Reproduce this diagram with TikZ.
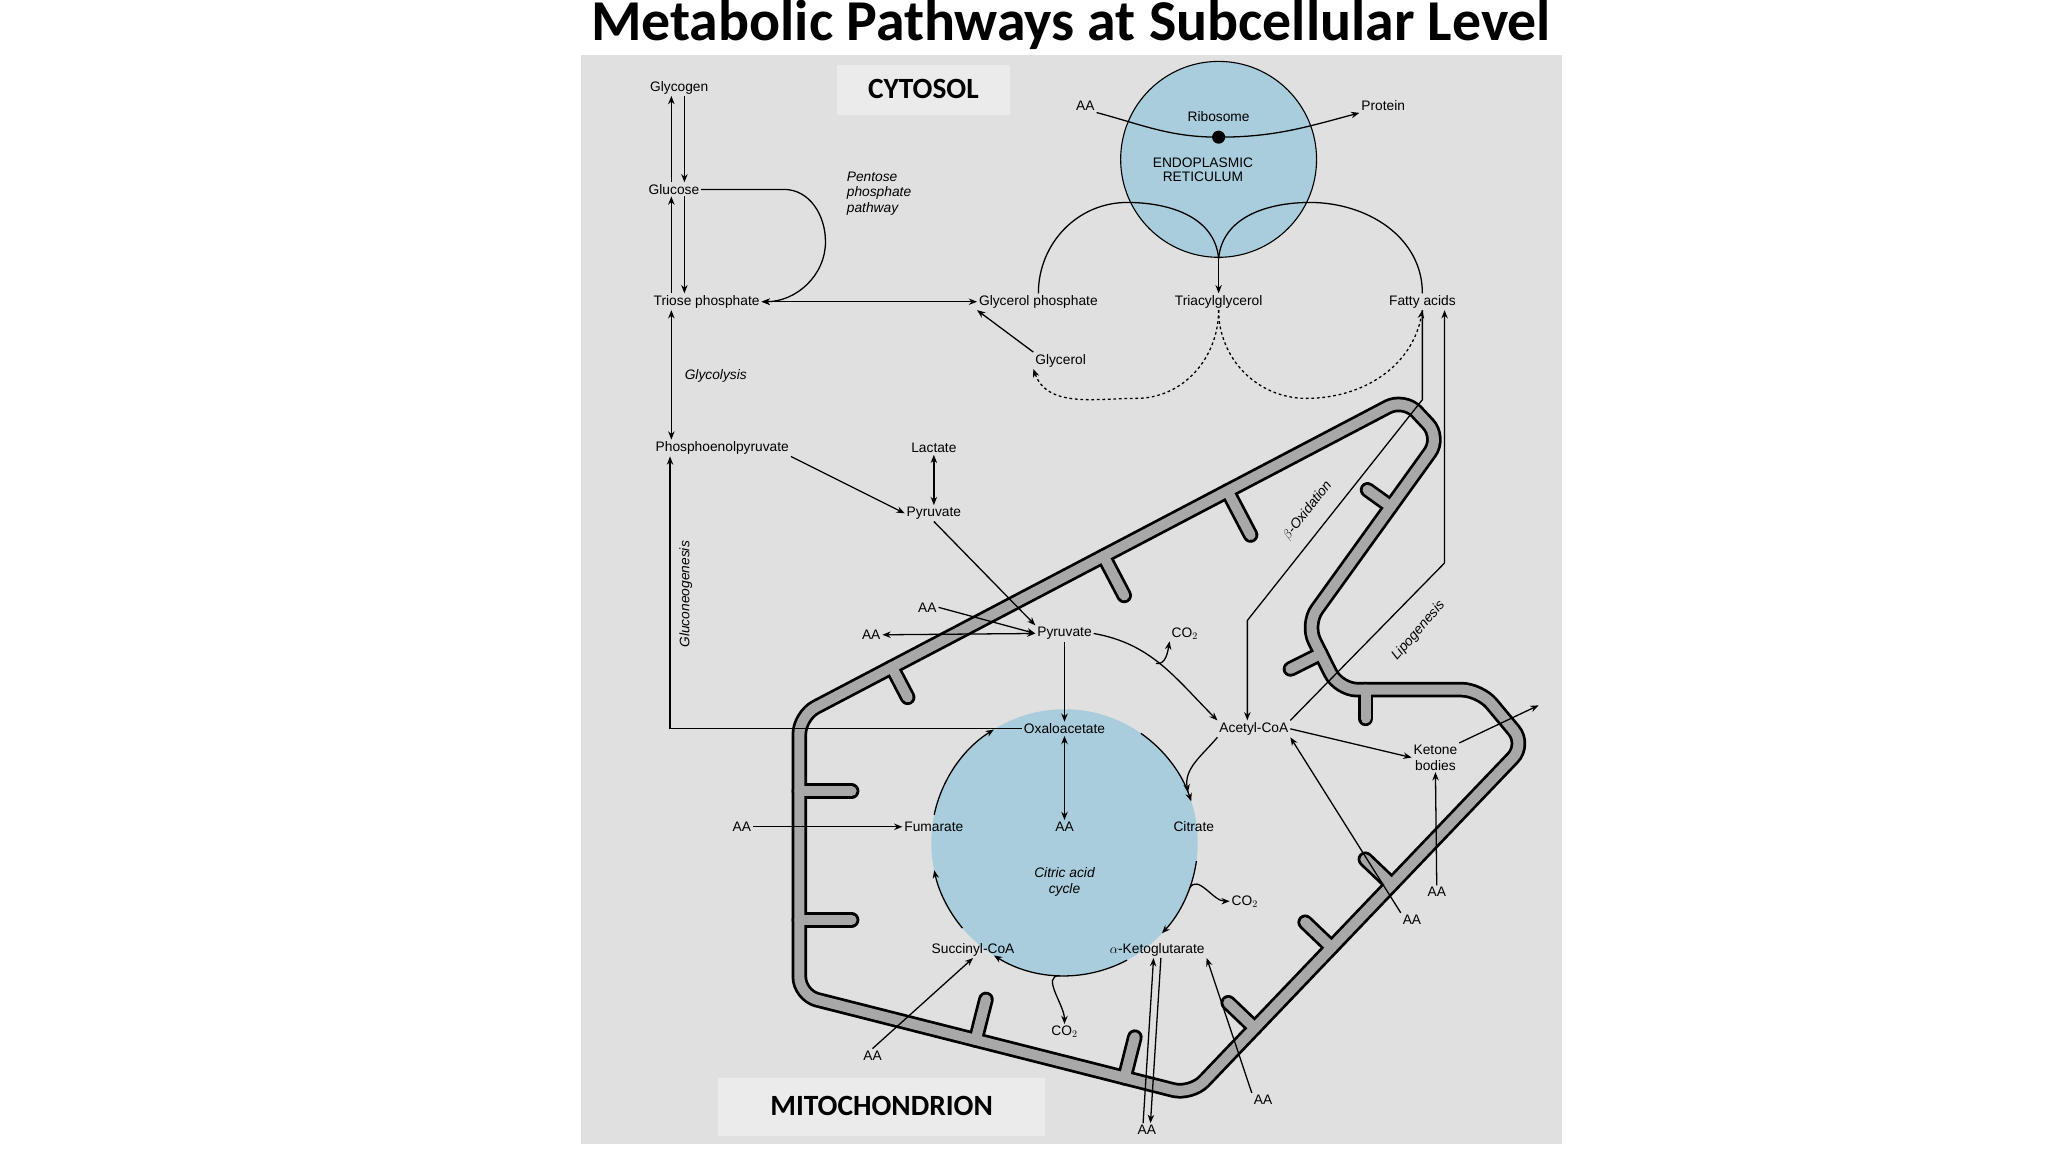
\documentclass[tikz,border=0pt]{standalone}
\usepackage{fontspec}
\setmainfont{Liberation Sans}
\newfontfamily\calfont{Carlito}
\usetikzlibrary{arrows.meta,calc}
\definecolor{bg}{HTML}{E0E0E0}
\definecolor{lbl}{HTML}{EBEBEB}
\definecolor{cyt}{HTML}{A9CDDD}
\definecolor{mem}{HTML}{A8A8A8}
\begin{document}
\begin{tikzpicture}[x=0.05cm,y=-0.05cm,
 t/.style={font=\fontsize{15}{17}\selectfont,inner sep=2pt},
 ti/.style={t,font=\fontsize{15}{17}\selectfont\itshape},
 ar/.style={line width=1.4pt,-{Stealth[length=9pt,width=7pt]}},
 ln/.style={line width=1.4pt},
 dar/.style={line width=1.4pt,{Stealth[length=9pt,width=7pt]}-{Stealth[length=9pt,width=7pt]}},
 big/.style={font=\calfont\bfseries\fontsize{32}{36}\selectfont}]
\useasboundingbox (0,0) rectangle (1568,882);
\fill[white] (0,0) rectangle (1568,882);
\fill[bg] (445,42) rectangle (1196,876);
\node[font=\calfont\bfseries\fontsize{63}{68}\selectfont] (title) at (820,19) {Metabolic Pathways at Subcellular Level};
\fill[lbl] (641,50) rectangle (773,88);
\node[big] (cyt) at (707,68) {CYTOSOL};
% mitochondrion membrane
\coordinate (m1) at (612,548);
\coordinate (m2) at (1075,305);
\coordinate (m3) at (1103,335);
\coordinate (m4) at (1000,478);
\coordinate (m5) at (1025,528);
\coordinate (m6) at (1133,528);
\coordinate (m7) at (1168,570);
\coordinate (m8) at (912,838);
\coordinate (m9) at (612,762);
\def\cristae{%
 \foreach \p/\q/\tt/\L in {m1/m2/0.153/1.3,m1/m2/0.503/1.7,m1/m2/0.708/1.9,m3/m4/0.37/1.1,m4/m5/0.45/1.3,m5/m6/0.19/1.1,m7/m8/0.40/1.4,m7/m8/0.58/1.4,m7/m8/0.81/1.4,m8/m9/0.17/1.6,m8/m9/0.55/1.6,m9/m1/0.27/2.0,m9/m1/0.73/2.0}{
  \path ($(\p)!\tt!(\q)$) coordinate (cb);
  \draw[line cap=round] (cb) -- ($(cb)!\L cm!-90:(\q)$);}}
\begin{scope}[line width=17pt,black]\cristae\end{scope}
\draw[line width=17pt,black,rounded corners=20pt] (m1)--(m2)--(m3)--(m4)--(m5)--(m6)--(m7)--(m8)--(m9)--cycle;
\begin{scope}[line width=11pt,mem]\cristae\end{scope}
\draw[line width=11pt,mem,rounded corners=20pt] (m1)--(m2)--(m3)--(m4)--(m5)--(m6)--(m7)--(m8)--(m9)--cycle;
\fill[lbl] (550,825) rectangle (800,870);
\node[big] (mito) at (675,847) {MITOCHONDRION};
% circles
\draw[line width=1.2pt,fill=cyt] (933,122) circle (75);
\fill[cyt] (815,645) circle (102);
% ER
\node[t] (rib) at (933,89) {Ribosome};
\node[t,align=center,font=\fontsize{15}{16}\selectfont] (er) at (921,130) {ENDOPLASMIC\\RETICULUM};
\node[t] (aa0) at (831,81) {AA};
\node[t] (prot) at (1059,81) {Protein};
\coordinate (dot) at (933,105);
\draw[ar] (aa0.south east) to[out=-15,in=180] (dot) to[out=0,in=195] (prot.south west);
\fill (dot) circle (5);
\node[t] (gp) at (795,231) {Glycerol phosphate};
\node[t] (tag) at (933,231) {Triacylglycerol};
\node[t] (fa) at (1089,231) {Fatty acids};
\node[t] (gly) at (812,276) {Glycerol};
\coordinate (erb) at (933,198);
\draw[ln] (gp.north) to[out=90,in=180] (863,155) to[out=0,in=95] (erb);
\draw[ln] (fa.north) to[out=90,in=0] (1003,155) to[out=180,in=85] (erb);
\draw[ar] (erb) -- (tag.north);
\draw[ar,dashed] (tag.south) to[out=-90,in=0] (870,305) to[out=180,in=-70] (gly.south west);
\draw[ar] (gly.north west) -- (gp.south west);
\draw[ar,dashed] (tag.south) to[out=-90,in=180] (1000,305) to[out=0,in=-100] (fa.south);
% left column
\node[t] (glyc) at (520,67) {Glycogen};
\node[t] (glu) at (516,145) {Glucose};
\node[t] (tp) at (541,231) {Triose phosphate};
\node[t] (pep) at (553,343) {Phosphoenolpyruvate};
\coordinate (xa) at (514,0);
\coordinate (xb) at (524,0);
\draw[ar] (glu.north -| xa) -- (glyc.south -| xa);
\draw[ar] (glyc.south -| xb) -- (glu.north -| xb);
\draw[ar] (tp.north -| xa) -- (glu.south -| xa);
\draw[ar] (glu.south -| xb) -- (tp.north -| xb);
\draw[dar] (tp.south -| xa) -- (pep.north -| xa);
\node[ti] (glyl) at (548,288) {Glycolysis};
\node[ti,align=left] (ppp) at (673,148) {Pentose\\phosphate\\pathway};
\draw[ar] (glu.east) -- (600,145) to[out=0,in=90] (632,185) to[out=-90,in=0] (tp.east);
\draw[dar] (tp.east) -- (gp.west);
\node[t] (lac) at (715,343) {Lactate};
\node[t] (pyr1) at (715,393) {Pyruvate};
\draw[dar] (lac.south) -- (pyr1.north);
\draw[ar] (pep.south east) -- (pyr1.west);
% mito contents
\node[t] (pyr2) at (815,485) {Pyruvate};
\node[t] (aa1) at (710,465) {AA};
\node[t] (aa2) at (667,486) {AA};
\node[t] (co2a) at (907,485) {CO$_2$};
\draw[ar] (pyr1.south) -- (pyr2.north west);
\draw[ar] (aa1.east) -- (pyr2.west);
\draw[dar] (aa2.east) -- (pyr2.west);
\node[t] (oaa) at (815,558) {Oxaloacetate};
\node[t] (acoa) at (960,558) {Acetyl-CoA};
\draw[ar] (pyr2.south) -- (oaa.north);
\draw[ar] (pyr2.east) to[out=-10,in=135] (acoa.north west);
\draw[ar] (885,508) to[out=-10,in=-100] (co2a.south west);
\node[ti,rotate=90] (gng) at (525,455) {Gluconeogenesis};
\coordinate (gc) at (513,558);
\draw[ar] (oaa.west) -- (gc) -- (pep.south -| gc);
\node[t] (fum) at (715,633) {Fumarate};
\node[t] (aac) at (815,633) {AA};
\node[t] (cit) at (914,633) {Citrate};
\node[ti,align=center] (cac) at (815,675) {Citric acid\\cycle};
\node[t] (suc) at (745,727) {Succinyl-CoA};
\node[t] (akg) at (886,727) {$\alpha$-Ketoglutarate};
\node[t] (co2b) at (953,690) {CO$_2$};
\node[t] (co2c) at (815,790) {CO$_2$};
\coordinate (cc) at (815,645);
\draw[dar] (oaa.south) -- (aac.north);
\draw[ar] ($(cc)+(-55:102)$) arc[start angle=-55,end angle=-18,radius=102];
\draw[ar] ($(cc)+(8:102)$) arc[start angle=8,end angle=43,radius=102];
\draw[ar] ($(cc)+(62:102)$) arc[start angle=62,end angle=122,radius=102];
\draw[ar] ($(cc)+(140:102)$) arc[start angle=140,end angle=168,radius=102];
\draw[ar] ($(cc)+(192:102)$) arc[start angle=192,end angle=238,radius=102];
\draw[ar] (acoa.south west) to[out=-130,in=100] ($(cc)+(-22:102)$);
\draw[ar] ($(cc)+(20:102)$) to[out=60,in=180] (co2b.west);
\draw[ar] ($(cc)+(92:102)$) to[out=180,in=90] (co2c.north);
\node[t] (aa3) at (568,633) {AA};
\draw[ar] (aa3.east) -- (fum.west);
\node[t] (aa4) at (668,808) {AA};
\draw[ar] (aa4.north) -- (suc.south);
\node[t] (aa5) at (878,865) {AA};
\draw[ar] ([xshift=-4]aa5.north) -- ([xshift=-4]akg.south);
\draw[ar] ([xshift=4]akg.south) -- ([xshift=4]aa5.north);
\node[t] (aa6) at (967,842) {AA};
\draw[ar] (aa6.north west) -- (akg.south east);
\node[t,align=center] (kb) at (1099,580) {Ketone\\bodies};
\draw[ar] (acoa.east) -- (kb.west);
\node[t] (aa7) at (1100,683) {AA};
\node[t] (aa8) at (1081,704) {AA};
\draw[ar] (aa7.north) -- (kb.south);
\draw[ar] (aa8.north west) -- (acoa.south east);
\coordinate (out) at (1178,540);
\draw[ar] (kb.north east) -- (out);
% beta oxidation & lipogenesis
\coordinate (b1) at (1089,306);
\coordinate (b2) at (955,475);
\draw[ar] (fa.south -| b1) -- (b1) -- (b2) -- (acoa.north -| b2);
\coordinate (l1) at (1106,431);
\draw[ar] (acoa.north east) -- (l1) -- (l1 |- fa.south);
\node[ti,rotate=52] (box) at (1001,391) {$\beta$-Oxidation};
\node[ti,rotate=49] (lip) at (1086,483) {Lipogenesis};
\end{tikzpicture}
\end{document}
